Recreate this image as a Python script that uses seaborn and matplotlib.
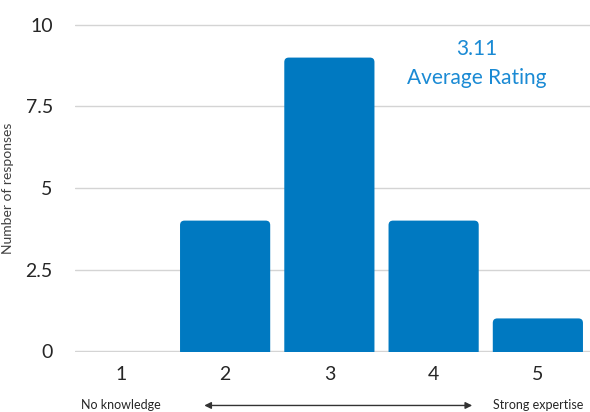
import matplotlib
matplotlib.use("Agg")
import matplotlib.pyplot as plt
import seaborn as sns
import pandas as pd
from matplotlib.patches import FancyBboxPatch

ratings = ["1", "2", "3", "4", "5"]
responses = [0, 4, 9, 4, 1]
y_ticks = [0, 2.5, 5, 7.5, 10]
y_tick_labels = ["0", "2.5", "5", "7.5", "10"]
average_rating = 3.11
low_label = "No knowledge"
high_label = "Strong expertise"

BLUE = "#0079c1"
TEXT_BLUE = "#1a8ad4"
DARK = "#262626"

sns.set_theme(style="white")
plt.rcParams["font.family"] = ["Lato", "DejaVu Sans"]

df = pd.DataFrame({"rating": ratings, "responses": responses})

fig = plt.figure(figsize=(5.9, 4.12), dpi=100)
ax = fig.add_axes([75 / 590, 60 / 412, 515 / 590, 328 / 412])

sns.barplot(data=df, x="rating", y="responses", color=BLUE, saturation=1,
            width=0.865, ax=ax)

ax.set_xlim(-0.44, 4.5)
ax.set_ylim(-0.03, 10.03)

# Replace the square bars with ones rounded at the top
fig.canvas.draw()
px_per_x = ax.transData.transform((1, 0))[0] - ax.transData.transform((0, 0))[0]
px_per_y = ax.transData.transform((0, 1))[1] - ax.transData.transform((0, 0))[1]
r_px = 4.5
r_x = r_px / px_per_x
aspect = px_per_x / px_per_y
r_y = r_x * aspect
for p in list(ax.patches):
    x, y = p.get_x(), p.get_y()
    w, h = p.get_width(), p.get_height()
    p.remove()
    if h <= 0:
        continue
    rp = FancyBboxPatch((x, y - r_y), w, h + r_y,
                        boxstyle=f"round,pad=0,rounding_size={r_x}",
                        mutation_aspect=aspect, facecolor=BLUE,
                        edgecolor="none", zorder=2)
    rp.set_clip_path(ax.patch)
    ax.add_patch(rp)

ax.set_yticks(y_ticks)
ax.set_yticklabels(y_tick_labels)
ax.yaxis.grid(True, color="#d4d4d4", linewidth=1)
ax.set_axisbelow(True)
for s in ax.spines.values():
    s.set_visible(False)
ax.tick_params(axis="both", length=0, labelsize=14, labelcolor=DARK)
ax.tick_params(axis="y", pad=16)
ax.tick_params(axis="x", pad=10)
ax.set_xlabel("")
ax.set_ylabel("Number of responses", fontsize=10, color="#404040", labelpad=8)

ax.text(3.41, 9.27, f"{average_rating:.2f}", color=TEXT_BLUE, fontsize=15,
        ha="center", va="center")
ax.text(3.41, 8.36, "Average Rating", color=TEXT_BLUE, fontsize=15,
        ha="center", va="center")

xt = ax.get_xaxis_transform()
ax.text(0, -0.163, low_label, transform=xt, fontsize=9, color=DARK,
        ha="center", va="center", clip_on=False)
ax.text(4, -0.163, high_label, transform=xt, fontsize=9, color=DARK,
        ha="center", va="center", clip_on=False)
ax.annotate("", xy=(3.37, -0.163), xytext=(0.8, -0.163),
            xycoords=xt, textcoords=xt,
            arrowprops=dict(arrowstyle="<|-|>", color="#333333", lw=1,
                            mutation_scale=10, shrinkA=0, shrinkB=0),
            annotation_clip=False)

fig.savefig("out.png", dpi=100)
